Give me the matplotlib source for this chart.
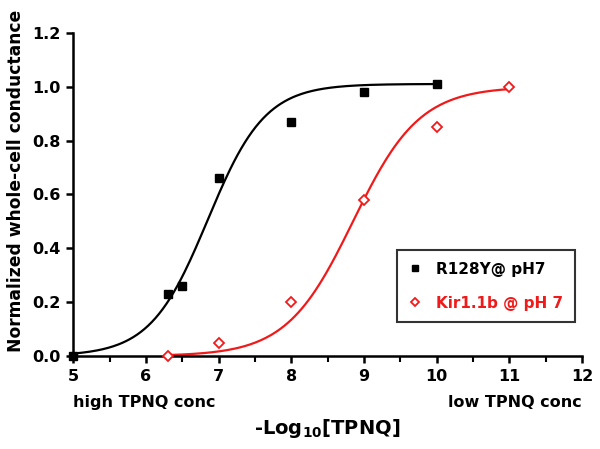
import numpy as np
import matplotlib
matplotlib.use("Agg")
import matplotlib.pyplot as plt
from matplotlib.ticker import MultipleLocator, FormatStrFormatter

plt.rcParams['font.family'] = ['DejaVu Sans']
plt.rcParams['font.weight'] = 'bold'
plt.rcParams['mathtext.default'] = 'bf'

# data
x_r128y = [5.0, 6.3, 6.5, 7.0, 8.0, 9.0, 10.0]
y_r128y = [0.0, 0.23, 0.26, 0.66, 0.87, 0.98, 1.01]
x_kir = [6.3, 7.0, 8.0, 9.0, 10.0, 11.0]
y_kir = [0.0, 0.05, 0.20, 0.58, 0.85, 1.00]

# Hill fit parameters (estimated from the drawn curves)
fit_r128y = dict(top=1.01, x50=6.85, h=1.1, lo=5.0, hi=10.0)
fit_kir = dict(top=1.0, x50=8.85, h=0.95, lo=6.3, hi=11.0)


def hill(x, top, x50, h):
    return top / (1 + 10 ** ((x50 - x) * h))


fig = plt.figure(figsize=(6, 4.49), dpi=100)
ax = fig.add_axes([0.122, 0.207, 0.848, 0.72])

for xs, ys, fit, col, mk, lab in [
        (x_r128y, y_r128y, fit_r128y, 'black', 's', 'R128Y@ pH7'),
        (x_kir, y_kir, fit_kir, '#f01a1a', 'D', 'Kir1.1b @ pH 7')]:
    xx = np.linspace(fit['lo'], fit['hi'], 200)
    ax.plot(xx, hill(xx, fit['top'], fit['x50'], fit['h']), color=col, lw=1.6,
            clip_on=False)
    if mk == 's':
        ax.plot(xs, ys, ls='none', marker='s', ms=6, color=col, label=lab,
                clip_on=False, zorder=5)
    else:
        ax.plot(xs, ys, ls='none', marker='D', ms=5, mfc='white', mec=col,
                mew=1.3, label=lab, clip_on=False, zorder=5)

ax.set_xlim(5, 12)
ax.set_ylim(0, 1.2)
ax.xaxis.set_major_locator(MultipleLocator(1))
ax.xaxis.set_minor_locator(MultipleLocator(0.5))
ax.yaxis.set_major_locator(MultipleLocator(0.2))
ax.yaxis.set_major_formatter(FormatStrFormatter('%.1f'))
for s in ['top', 'right']:
    ax.spines[s].set_visible(False)
for s in ['left', 'bottom']:
    ax.spines[s].set_linewidth(1.8)
ax.tick_params(which='major', width=1.8, length=5, labelsize=11.5, pad=4)
ax.tick_params(which='minor', width=1.5, length=4)
for t in ax.get_xticklabels() + ax.get_yticklabels():
    t.set_fontweight('bold')

ax.set_ylabel('Normalized whole-cell conductance', fontsize=12.3,
              fontweight='bold')
ax.yaxis.set_label_coords(-0.094, 0.541)
ax.set_xlabel('-Log$_{10}$[TPNQ]', fontsize=14, fontweight='bold',
              labelpad=24)
ax.text(0.0, -0.145, 'high TPNQ conc', transform=ax.transAxes, ha='left',
        va='center', fontsize=11.5, fontweight='bold')
ax.text(1.0, -0.145, 'low TPNQ conc', transform=ax.transAxes, ha='right',
        va='center', fontsize=11.5, fontweight='bold')

leg = ax.legend(loc='lower right', bbox_to_anchor=(0.986, 0.105), fontsize=11,
                frameon=True, fancybox=False, handlelength=0.8,
                handletextpad=1.0, borderpad=0.75, labelspacing=1.25,
                markerscale=0.75, borderaxespad=0)
leg.get_frame().set_edgecolor('black')
leg.get_frame().set_linewidth(1.5)
for txt, col in zip(leg.get_texts(), ['black', '#f01a1a']):
    txt.set_color(col)
    txt.set_fontweight('bold')

fig.savefig('out.png', dpi=100)
